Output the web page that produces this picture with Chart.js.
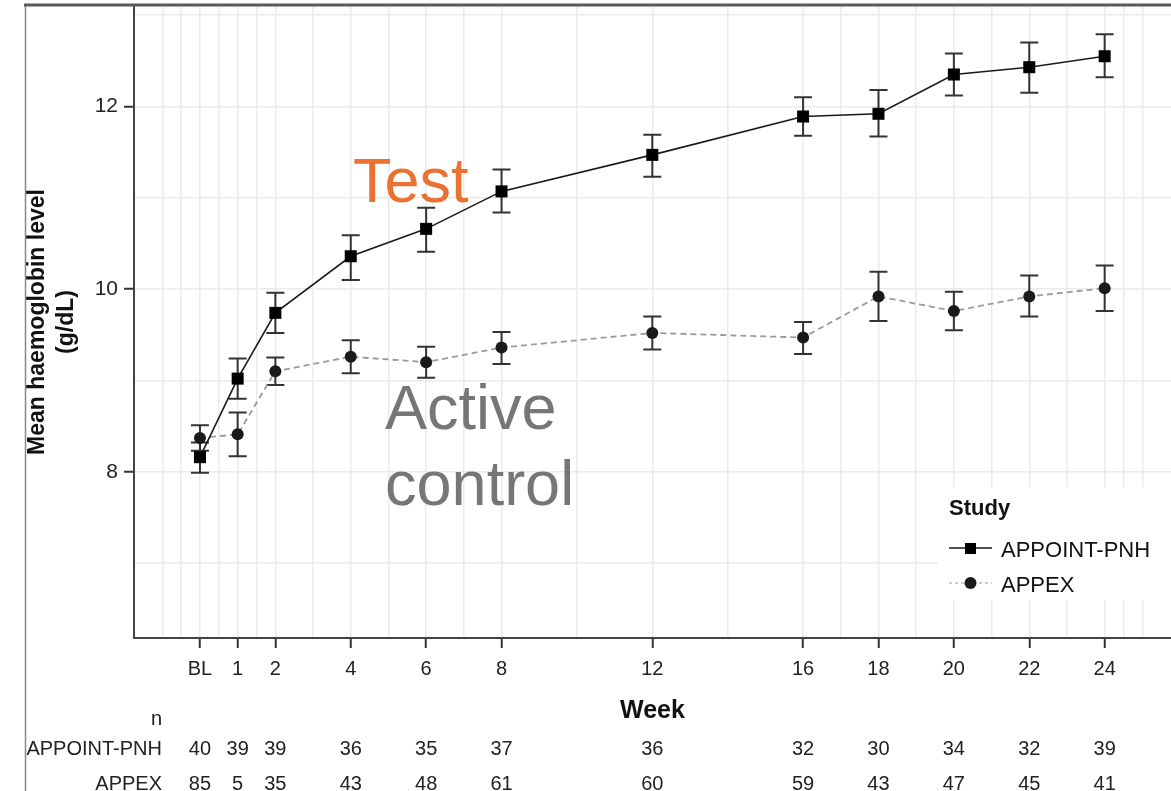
<!DOCTYPE html>
<html>
<head>
<meta charset="utf-8">
<script src="https://cdn.jsdelivr.net/npm/chart.js@4.4.1/dist/chart.umd.min.js"></script>
<style>
  html, body { margin: 0; padding: 0; background: #fff; }
  canvas { display: block; }
</style>
</head>
<body>
<canvas id="hbChart" width="1171" height="791"></canvas>
<script>
// ---- data ----
const weeks = [0, 1, 2, 4, 6, 8, 12, 16, 18, 20, 22, 24];
const weekLabels = ['BL', '1', '2', '4', '6', '8', '12', '16', '18', '20', '22', '24'];

const appointMean  = [8.16, 9.02, 9.74, 10.36, 10.66, 11.07, 11.47, 11.89, 11.92, 12.35, 12.43, 12.55];
const appointUpper = [8.32, 9.24, 9.96, 10.59, 10.89, 11.31, 11.69, 12.10, 12.18, 12.58, 12.70, 12.79];
const appointLower = [7.99, 8.80, 9.52, 10.10, 10.41, 10.84, 11.23, 11.68, 11.67, 12.12, 12.15, 12.32];

const appexMean  = [8.37, 8.41, 9.10, 9.26, 9.20, 9.36, 9.52, 9.47, 9.92, 9.76, 9.92, 10.01];
const appexUpper = [8.51, 8.65, 9.25, 9.44, 9.37, 9.53, 9.70, 9.64, 10.19, 9.97, 10.15, 10.26];
const appexLower = [8.23, 8.17, 8.95, 9.08, 9.03, 9.18, 9.34, 9.29, 9.65, 9.55, 9.70, 9.76];

const nAppoint = [40, 39, 39, 36, 35, 37, 36, 32, 30, 34, 32, 39];
const nAppex   = [85, 5, 35, 43, 48, 61, 60, 59, 43, 47, 45, 41];

// grid positions (major + minor) and labelled y ticks
const xGrid = [-1, -0.5, 0, 0.5, 1, 1.5, 2, 3, 4, 5, 6, 7, 8, 10, 12, 14, 16, 17, 18, 19, 20, 21, 22, 23, 24, 24.5, 25];
const yGrid = [7, 8, 9, 10, 11, 12, 13];
const yLabelled = [8, 10, 12];

const FONT = "'Liberation Sans', Arial, Helvetica, sans-serif";
Chart.defaults.font.family = FONT;
Chart.defaults.color = '#222';

// error bars, drawn under the markers
const errorBars = {
    id: 'errorBars',
    beforeDatasetsDraw(chart) {
        const {ctx, scales: {x, y}} = chart;
        const sets = [[appointLower, appointUpper], [appexLower, appexUpper]];
        ctx.save();
        ctx.strokeStyle = '#333';
        ctx.lineWidth = 2;
        sets.forEach(([lo, hi]) => {
            weeks.forEach((w, i) => {
                const px = x.getPixelForValue(w);
                const yTop = y.getPixelForValue(hi[i]);
                const yBot = y.getPixelForValue(lo[i]);
                ctx.beginPath();
                ctx.moveTo(px, yTop); ctx.lineTo(px, yBot);
                ctx.moveTo(px - 9, yTop); ctx.lineTo(px + 9, yTop);
                ctx.moveTo(px - 9, yBot); ctx.lineTo(px + 9, yBot);
                ctx.stroke();
            });
        });
        ctx.restore();
    }
};

// text annotations, n-at-risk table, legend and frame
const extras = {
    id: 'extras',
    afterDraw(chart) {
        const {ctx, scales: {x, y}} = chart;
        ctx.save();

        // outer frame of the figure
        ctx.strokeStyle = '#888';
        ctx.lineWidth = 1.5;
        ctx.beginPath(); ctx.moveTo(25.5, 4); ctx.lineTo(25.5, 791); ctx.stroke();
        ctx.strokeStyle = '#5a5a5a';
        ctx.lineWidth = 3;
        ctx.beginPath(); ctx.moveTo(24, 5); ctx.lineTo(1171, 5); ctx.stroke();

        // big labels
        ctx.textAlign = 'left';
        ctx.textBaseline = 'alphabetic';
        ctx.font = `63px ${FONT}`;
        ctx.fillStyle = '#E97132';
        ctx.fillText('Test', x.getPixelForValue(4.06), y.getPixelForValue(10.95));
        ctx.fillStyle = '#767676';
        ctx.fillText('Active', x.getPixelForValue(4.91), y.getPixelForValue(8.47));
        ctx.fillText('control', x.getPixelForValue(4.91), y.getPixelForValue(7.64));

        // number at risk table
        ctx.fillStyle = '#222';
        ctx.font = `20px ${FONT}`;
        ctx.textAlign = 'right';
        ctx.fillText('n', 162, 725);
        ctx.fillText('APPOINT-PNH', 162, 755);
        ctx.fillText('APPEX', 162, 790);
        ctx.textAlign = 'center';
        weeks.forEach((w, i) => {
            const px = x.getPixelForValue(w);
            ctx.fillText(String(nAppoint[i]), px, 755);
            ctx.fillText(String(nAppex[i]), px, 790);
        });

        // legend
        ctx.fillStyle = '#fff';
        ctx.fillRect(938, 487, 240, 113);
        ctx.fillStyle = '#111';
        ctx.textAlign = 'left';
        ctx.font = `bold 22px ${FONT}`;
        ctx.fillText('Study', 949, 515);

        ctx.strokeStyle = '#1a1a1a';
        ctx.lineWidth = 1.6;
        ctx.beginPath(); ctx.moveTo(949, 548); ctx.lineTo(992, 548); ctx.stroke();
        ctx.fillStyle = '#000';
        ctx.fillRect(965, 543, 11, 11);

        ctx.strokeStyle = '#9a9a9a';
        ctx.lineWidth = 1.2;
        ctx.setLineDash([3, 3]);
        ctx.beginPath(); ctx.moveTo(949, 583); ctx.lineTo(992, 583); ctx.stroke();
        ctx.setLineDash([]);
        ctx.fillStyle = '#1a1a1a';
        ctx.beginPath(); ctx.arc(970.5, 583, 6, 0, Math.PI * 2); ctx.fill();

        ctx.fillStyle = '#111';
        ctx.font = `22px ${FONT}`;
        ctx.fillText('APPOINT-PNH', 1001, 557);
        ctx.fillText('APPEX', 1001, 592);

        ctx.restore();
    }
};

const ctx = document.getElementById('hbChart').getContext('2d');
new Chart(ctx, {
    type: 'line',
    data: {
        datasets: [
            {
                label: 'APPOINT-PNH',
                data: weeks.map((w, i) => ({x: w, y: appointMean[i]})),
                borderColor: '#1a1a1a',
                borderWidth: 1.6,
                pointStyle: 'rect',
                pointRadius: 8.5,
                pointBackgroundColor: '#000',
                pointBorderColor: '#000',
                pointBorderWidth: 0,
                tension: 0
            },
            {
                label: 'APPEX',
                data: weeks.map((w, i) => ({x: w, y: appexMean[i]})),
                borderColor: '#9a9a9a',
                borderWidth: 1.8,
                borderDash: [6, 4],
                pointStyle: 'circle',
                pointRadius: 6,
                pointBackgroundColor: '#1a1a1a',
                pointBorderColor: '#1a1a1a',
                pointBorderWidth: 0,
                tension: 0
            }
        ]
    },
    options: {
        responsive: false,
        devicePixelRatio: 1,
        animation: false,
        layout: { autoPadding: false, padding: { left: 0, right: 0, top: 6, bottom: 0 } },
        plugins: {
            legend: { display: false },
            tooltip: { enabled: false }
        },
        scales: {
            x: {
                type: 'linear',
                min: -1.75,
                max: 25.76,
                afterBuildTicks: s => { s.ticks = xGrid.map(v => ({value: v})); },
                afterFit: s => { s.height = 153; s.paddingLeft = 0; s.paddingRight = 0; },
                ticks: {
                    autoSkip: false,
                    maxRotation: 0,
                    padding: 9,
                    color: '#222',
                    font: { size: 20 },
                    callback: v => {
                        const i = weeks.indexOf(v);
                        return i >= 0 ? weekLabels[i] : '';
                    }
                },
                grid: {
                    color: '#ebebeb',
                    lineWidth: 1.5,
                    tickLength: 10,
                    tickWidth: 2,
                    tickColor: c => weeks.includes(c.tick && c.tick.value) ? '#333' : 'rgba(0,0,0,0)'
                },
                border: { display: true, color: '#444', width: 2 },
                title: {
                    display: true,
                    text: 'Week',
                    color: '#111',
                    font: { size: 25, weight: 'bold', lineHeight: 1.2 },
                    padding: { top: 0, bottom: 64.5 }
                }
            },
            y: {
                min: 6.18,
                max: 13.1,
                afterBuildTicks: s => { s.ticks = yGrid.map(v => ({value: v})); },
                afterFit: s => { s.width = 134; s.paddingTop = 0; s.paddingBottom = 0; },
                ticks: {
                    autoSkip: false,
                    padding: 6,
                    color: '#222',
                    font: { size: 21 },
                    callback: v => yLabelled.includes(v) ? String(v) : ''
                },
                grid: {
                    color: '#ebebeb',
                    lineWidth: 1.5,
                    tickLength: 10,
                    tickWidth: 2,
                    tickColor: c => yLabelled.includes(c.tick && c.tick.value) ? '#333' : 'rgba(0,0,0,0)'
                },
                border: { display: true, color: '#444', width: 2 },
                title: {
                    display: true,
                    text: ['Mean haemoglobin level', '(g/dL)'],
                    color: '#111',
                    font: { size: 23, weight: 'bold', lineHeight: 1.26 },
                    padding: { top: 23.5, bottom: 0 }
                }
            }
        }
    },
    plugins: [errorBars, extras]
});
</script>
</body>
</html>
